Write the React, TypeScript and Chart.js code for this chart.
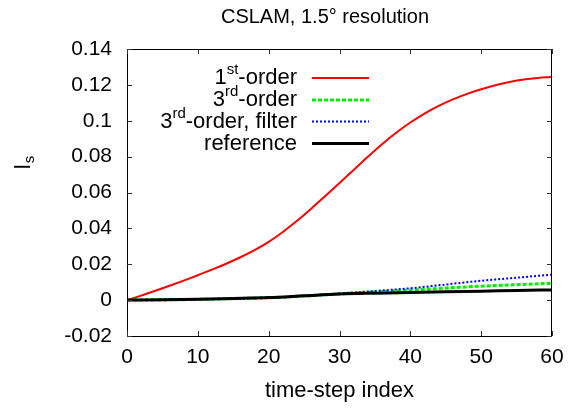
import React, { useEffect, useRef } from "react";
import { Chart, registerables } from "chart.js";

Chart.register(...registerables);

const titleText = "CSLAM, 1.5° resolution";
const xAxisTitle = "time-step index";
const yAxisTitleMain = "l";
const yAxisTitleSub = "s";

const xTicks = [0, 10, 20, 30, 40, 50, 60];
const yTicks = [-0.02, 0, 0.02, 0.04, 0.06, 0.08, 0.1, 0.12, 0.14];

// 1st-order, sampled every 2 time steps
const firstOrderX = [0, 2, 4, 6, 8, 10, 12, 14, 16, 18, 20, 22, 24, 26, 28, 30, 32, 34, 36, 38, 40, 42, 44, 46, 48, 50, 52, 54, 56, 58, 60];
const firstOrderY = [0, 0.0025, 0.0052, 0.008, 0.0109, 0.0139, 0.017, 0.0203, 0.0239, 0.0279, 0.0325, 0.038, 0.0442, 0.051, 0.0581, 0.0653, 0.0726, 0.0799, 0.0869, 0.0933, 0.099, 0.104, 0.1083, 0.1119, 0.115, 0.1176, 0.1198, 0.1216, 0.123, 0.1239, 0.1244];

// other series, sampled every 5 time steps
const coarseX = [0, 5, 10, 15, 20, 25, 30, 35, 40, 45, 50, 55, 60];
const thirdOrderY = [0, 0.0001, 0.0004, 0.0008, 0.0013, 0.0023, 0.0035, 0.0046, 0.0056, 0.0067, 0.0078, 0.0086, 0.0094];
const thirdFilterY = [0, 0.0001, 0.0004, 0.0008, 0.0013, 0.0024, 0.0037, 0.0051, 0.0066, 0.0087, 0.0108, 0.0125, 0.0142];
const referenceY = [0, 0.0002, 0.0005, 0.0009, 0.0014, 0.0024, 0.0034, 0.0039, 0.0043, 0.0047, 0.005, 0.0054, 0.0057];

// legend labels: [main, superscript, rest]
const legendLabels: [string, string, string][] = [
  ["1", "st", "-order"],
  ["3", "rd", "-order"],
  ["3", "rd", "-order, filter"],
  ["", "", "reference"],
];

const FONT = "'Liberation Sans', Arial, Helvetica, sans-serif";

const styles = [
  { color: "#ff0000", width: 2, dash: [] as number[] },
  { color: "#00ee00", width: 3, dash: [4, 2] },
  { color: "#0000ff", width: 2, dash: [2, 2] },
  { color: "#000000", width: 3, dash: [] as number[] },
];

function pts(xs: number[], ys: number[]) {
  return xs.map((x, i) => ({ x, y: ys[i] }));
}

const decorPlugin = {
  id: "decor",
  afterDraw(chart: any) {
    const ctx = chart.ctx as CanvasRenderingContext2D;
    const area = chart.chartArea;
    const xs = chart.scales.x;
    const ys = chart.scales.y;
    ctx.save();
    // border box
    ctx.strokeStyle = "#000";
    ctx.lineWidth = 1;
    ctx.setLineDash([]);
    ctx.strokeRect(Math.round(area.left) + 0.5, Math.round(area.top) + 0.5, Math.round(area.right - area.left) - 1, Math.round(area.bottom - area.top));
    // inward ticks
    const tl = 5;
    ctx.strokeStyle = "#333";
    ctx.beginPath();
    xTicks.forEach((v) => {
      const px = Math.round(xs.getPixelForValue(v)) + 0.5;
      ctx.moveTo(px, area.bottom);
      ctx.lineTo(px, area.bottom - tl);
      ctx.moveTo(px, area.top);
      ctx.lineTo(px, area.top + tl);
    });
    yTicks.forEach((v) => {
      const py = Math.round(ys.getPixelForValue(v)) + 0.5;
      ctx.moveTo(area.left, py);
      ctx.lineTo(area.left + tl, py);
      ctx.moveTo(area.right, py);
      ctx.lineTo(area.right - tl, py);
    });
    ctx.stroke();

    ctx.fillStyle = "#000";
    // title
    ctx.font = `20px ${FONT}`;
    ctx.textAlign = "center";
    ctx.textBaseline = "middle";
    ctx.fillText(titleText, 325, 17);
    // x axis title
    ctx.font = `22px ${FONT}`;
    ctx.fillText(xAxisTitle, (area.left + area.right) / 2, 391);
    // y axis title with subscript
    ctx.save();
    ctx.translate(24, 163);
    ctx.rotate(-Math.PI / 2);
    ctx.textAlign = "left";
    ctx.font = `22px ${FONT}`;
    const wl = ctx.measureText(yAxisTitleMain).width;
    ctx.font = `15px ${FONT}`;
    const ws = ctx.measureText(yAxisTitleSub).width;
    const start = -(wl + ws) / 2;
    ctx.font = `22px ${FONT}`;
    ctx.fillText(yAxisTitleMain, start, 0);
    ctx.font = `15px ${FONT}`;
    ctx.fillText(yAxisTitleSub, start + wl + 1, 6);
    ctx.restore();

    // legend
    const rightX = 297;
    const rows = [78, 100, 121.5, 143.5];
    legendLabels.forEach((lab, i) => {
      const y = rows[i];
      ctx.textAlign = "left";
      ctx.textBaseline = "middle";
      ctx.font = `22px ${FONT}`;
      const w1 = ctx.measureText(lab[0]).width;
      const w3 = ctx.measureText(lab[2]).width;
      ctx.font = `15px ${FONT}`;
      const w2 = ctx.measureText(lab[1]).width;
      let x = rightX - (w1 + w2 + w3);
      ctx.font = `22px ${FONT}`;
      ctx.fillText(lab[0], x, y);
      x += w1;
      ctx.font = `15px ${FONT}`;
      ctx.fillText(lab[1], x, y - 8);
      x += w2;
      ctx.font = `22px ${FONT}`;
      ctx.fillText(lab[2], x, y);
      const st = styles[i];
      ctx.strokeStyle = st.color;
      ctx.lineWidth = st.width;
      ctx.setLineDash(st.dash);
      ctx.beginPath();
      ctx.moveTo(312, y);
      ctx.lineTo(369, y);
      ctx.stroke();
    });
    ctx.restore();
  },
};

export default function App() {
  const ref = useRef<HTMLCanvasElement | null>(null);
  useEffect(() => {
    if (!ref.current) return;
    const mk = (label: string, data: any[], i: number, order: number) => ({
      label,
      data,
      borderColor: styles[i].color,
      backgroundColor: styles[i].color,
      borderWidth: styles[i].width,
      borderDash: styles[i].dash,
      pointRadius: 0,
      fill: false,
      cubicInterpolationMode: "monotone" as const,
      order,
    });
    const chart = new Chart(ref.current, {
      type: "line",
      data: {
        datasets: [
          mk("1st-order", pts(firstOrderX, firstOrderY), 0, 4),
          mk("3rd-order", pts(coarseX, thirdOrderY), 1, 3),
          mk("3rd-order, filter", pts(coarseX, thirdFilterY), 2, 2),
          mk("reference", pts(coarseX, referenceY), 3, 1),
        ],
      },
      options: {
        animation: false,
        responsive: true,
        maintainAspectRatio: false,
        layout: { padding: { top: 49, right: 23, left: 0, bottom: 0 } },
        plugins: { legend: { display: false }, title: { display: false }, tooltip: { enabled: false } },
        scales: {
          x: {
            type: "linear",
            min: 0,
            max: 60,
            afterFit: (s: any) => { s.height = 74; },
            afterBuildTicks: (s: any) => { s.ticks = xTicks.map((v) => ({ value: v })); },
            grid: { display: false, drawTicks: false },
            border: { display: false },
            ticks: { color: "#000", font: { family: FONT, size: 21 }, padding: 9, maxRotation: 0, autoSkip: false, callback: (v: any) => String(v) },
          },
          y: {
            type: "linear",
            min: -0.02,
            max: 0.14,
            afterFit: (s: any) => { s.width = 127; },
            afterBuildTicks: (s: any) => { s.ticks = yTicks.map((v) => ({ value: v })); },
            grid: { display: false, drawTicks: false },
            border: { display: false },
            ticks: { color: "#000", font: { family: FONT, size: 21 }, padding: 15, autoSkip: false, callback: (v: any) => String(Number(Number(v).toFixed(2))) },
          },
        },
      },
      plugins: [decorPlugin],
    });
    return () => chart.destroy();
  }, []);
  return (
    <div style={{ position: "fixed", left: 0, top: 0, width: 575, height: 410, background: "#fff" }}>
      <canvas ref={ref} />
    </div>
  );
}
